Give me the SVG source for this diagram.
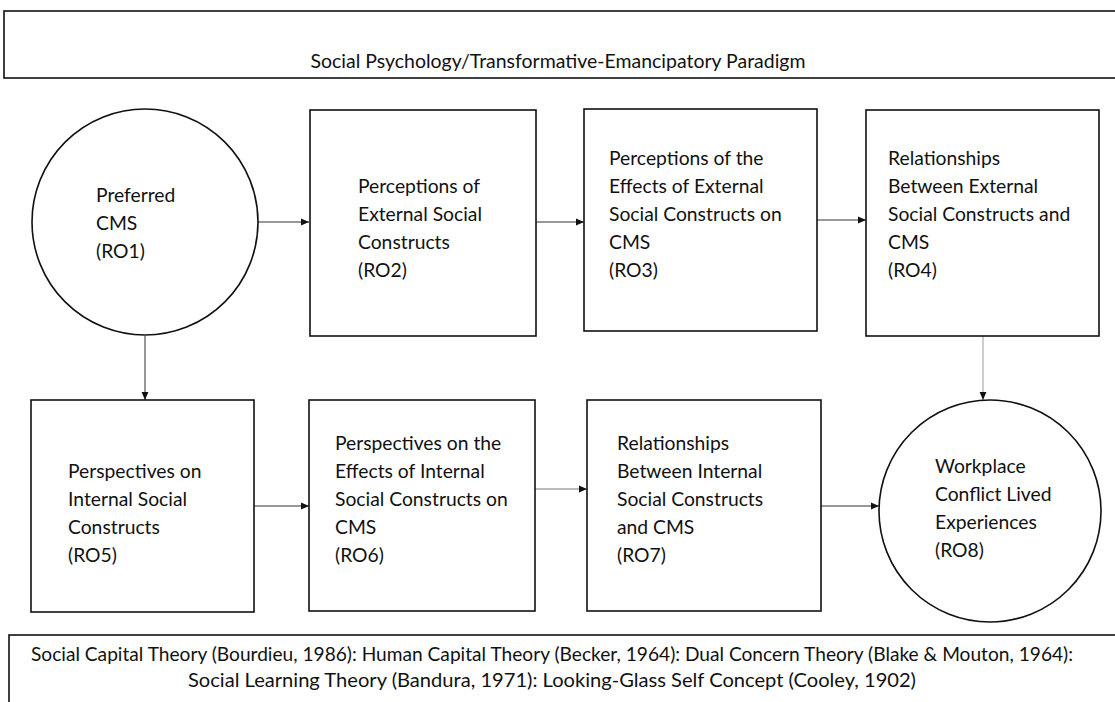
<svg xmlns="http://www.w3.org/2000/svg" width="1115" height="702" viewBox="0 0 1115 702">
  <style>
    .frame { fill: #ffffff; stroke: #111111; stroke-width: 1.6; }
    .label { font-family: Lato, "Liberation Sans", sans-serif; font-size: 19.3px; fill: #111111; }
    .band { font-family: Lato, "Liberation Sans", sans-serif; font-size: 19px; fill: #111111; text-anchor: middle; }
    .link { fill: none; stroke: #333333; stroke-width: 1; marker-end: url(#head); }
    .link.light { stroke: #9a9a9a; }
    .link.mid { stroke: #777777; }
  </style>
  <defs>
    <marker id="head" viewBox="0 0 8 8" refX="8" refY="4" markerWidth="8" markerHeight="8" markerUnits="userSpaceOnUse" orient="auto">
      <path d="M0,0.6 L8,4 L0,7.4 Z" fill="#111111"/>
    </marker>
  </defs>
  <rect width="1115" height="702" fill="#ffffff"/>

  <!-- paradigm band -->
  <g id="paradigm">
    <rect class="frame" x="4" y="11" width="1125" height="67"/>
    <text class="band" x="558" y="68" textLength="495" lengthAdjust="spacingAndGlyphs">Social Psychology/Transformative-Emancipatory Paradigm</text>
  </g>

  <!-- connectors -->
  <g id="connectors">
    <line class="link" x1="258" y1="222" x2="309" y2="222"/>
    <line class="link" x1="536" y1="222" x2="584" y2="222"/>
    <line class="link" x1="817" y1="220" x2="866" y2="220"/>
    <line class="link" x1="145" y1="336" x2="145" y2="400"/>
    <line class="link light" x1="983" y1="336" x2="983" y2="400"/>
    <line class="link" x1="254" y1="506" x2="309" y2="506"/>
    <line class="link mid" x1="535" y1="489" x2="587" y2="489"/>
    <line class="link" x1="821" y1="506" x2="879" y2="506"/>
  </g>

  <g id="ro1">
    <circle class="frame" cx="145" cy="222" r="113"/>
    <text class="label"><tspan x="96" y="202">Preferred</tspan><tspan x="96" y="230">CMS</tspan><tspan x="96" y="258">(RO1)</tspan></text>
  </g>

  <g id="ro2">
    <rect class="frame" x="310" y="110" width="226" height="226"/>
    <text class="label"><tspan x="358" y="193">Perceptions of</tspan><tspan x="358" y="221">External Social</tspan><tspan x="358" y="249">Constructs</tspan><tspan x="358" y="277">(RO2)</tspan></text>
  </g>

  <g id="ro3">
    <rect class="frame" x="584" y="109" width="233" height="222"/>
    <text class="label"><tspan x="609" y="165">Perceptions of the</tspan><tspan x="609" y="193">Effects of External</tspan><tspan x="609" y="221">Social Constructs on</tspan><tspan x="609" y="249">CMS</tspan><tspan x="609" y="277">(RO3)</tspan></text>
  </g>

  <g id="ro4">
    <rect class="frame" x="866" y="110" width="233" height="226"/>
    <text class="label"><tspan x="888" y="165">Relationships</tspan><tspan x="888" y="193">Between External</tspan><tspan x="888" y="221">Social Constructs and</tspan><tspan x="888" y="249">CMS</tspan><tspan x="888" y="277">(RO4)</tspan></text>
  </g>

  <g id="ro5">
    <rect class="frame" x="31" y="400" width="223" height="212"/>
    <text class="label"><tspan x="68" y="478">Perspectives on</tspan><tspan x="68" y="506">Internal Social</tspan><tspan x="68" y="534">Constructs</tspan><tspan x="68" y="562">(RO5)</tspan></text>
  </g>

  <g id="ro6">
    <rect class="frame" x="309" y="400" width="226" height="211"/>
    <text class="label"><tspan x="335" y="450">Perspectives on the</tspan><tspan x="335" y="478">Effects of Internal</tspan><tspan x="335" y="506">Social Constructs on</tspan><tspan x="335" y="534">CMS</tspan><tspan x="335" y="562">(RO6)</tspan></text>
  </g>

  <g id="ro7">
    <rect class="frame" x="587" y="400" width="234" height="211"/>
    <text class="label"><tspan x="617" y="450">Relationships</tspan><tspan x="617" y="478">Between Internal</tspan><tspan x="617" y="506">Social Constructs</tspan><tspan x="617" y="534">and CMS</tspan><tspan x="617" y="562">(RO7)</tspan></text>
  </g>

  <g id="ro8">
    <circle class="frame" cx="990" cy="511" r="111"/>
    <text class="label"><tspan x="935" y="473">Workplace</tspan><tspan x="935" y="501">Conflict Lived</tspan><tspan x="935" y="529">Experiences</tspan><tspan x="935" y="557">(RO8)</tspan></text>
  </g>

  <!-- theory band -->
  <g id="theories">
    <rect class="frame" x="9" y="635" width="1120" height="80"/>
    <text class="band" x="552" y="661" textLength="1042" lengthAdjust="spacingAndGlyphs">Social Capital Theory (Bourdieu, 1986): Human Capital Theory (Becker, 1964): Dual Concern Theory (Blake &amp; Mouton, 1964):</text>
    <text class="band" x="552" y="687" textLength="728" lengthAdjust="spacingAndGlyphs">Social Learning Theory (Bandura, 1971): Looking-Glass Self Concept (Cooley, 1902)</text>
  </g>
</svg>
